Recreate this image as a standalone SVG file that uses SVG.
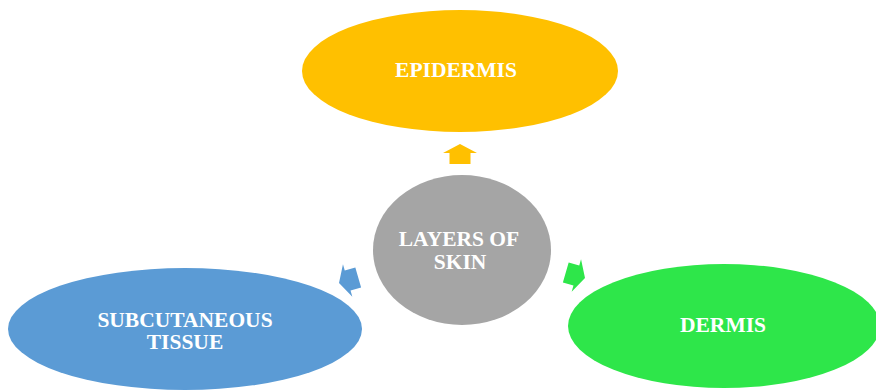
<svg xmlns="http://www.w3.org/2000/svg" width="876" height="392" viewBox="0 0 876 392">
<style>
.lbl{font-family:"Liberation Serif","Times New Roman",serif;font-weight:bold;font-size:21.5px;fill:#ffffff;text-anchor:middle}
</style>
<defs>
<polygon id="arr" points="0,0 17,9 10.5,9 10.5,20 -10.5,20 -10.5,9 -17,9"/>
</defs>
<rect width="876" height="392" fill="#ffffff"/>
<g id="connectors">
<use href="#arr" fill="#FFC000" transform="translate(460,144)"/>
<use href="#arr" fill="#5B9BD5" transform="translate(339,283) rotate(-106)"/>
<use href="#arr" fill="#2EE64A" transform="translate(585,278) rotate(106)"/>
</g>
<g id="epidermis">
<ellipse cx="460" cy="71" rx="158" ry="61" fill="#FFC000"/>
<text class="lbl" x="456" y="77">EPIDERMIS</text>
</g>
<g id="center">
<ellipse cx="462" cy="250" rx="89" ry="75" fill="#A5A5A5"/>
<text class="lbl" x="459" y="246">LAYERS OF</text>
<text class="lbl" x="460" y="269">SKIN</text>
</g>
<g id="subcutaneous">
<ellipse cx="185" cy="329" rx="177" ry="61" fill="#5B9BD5"/>
<text class="lbl" x="185" y="327">SUBCUTANEOUS</text>
<text class="lbl" x="185" y="349">TISSUE</text>
</g>
<g id="dermis">
<ellipse cx="724" cy="326" rx="156" ry="62" fill="#2EE64A"/>
<text class="lbl" x="723" y="332">DERMIS</text>
</g>
</svg>
